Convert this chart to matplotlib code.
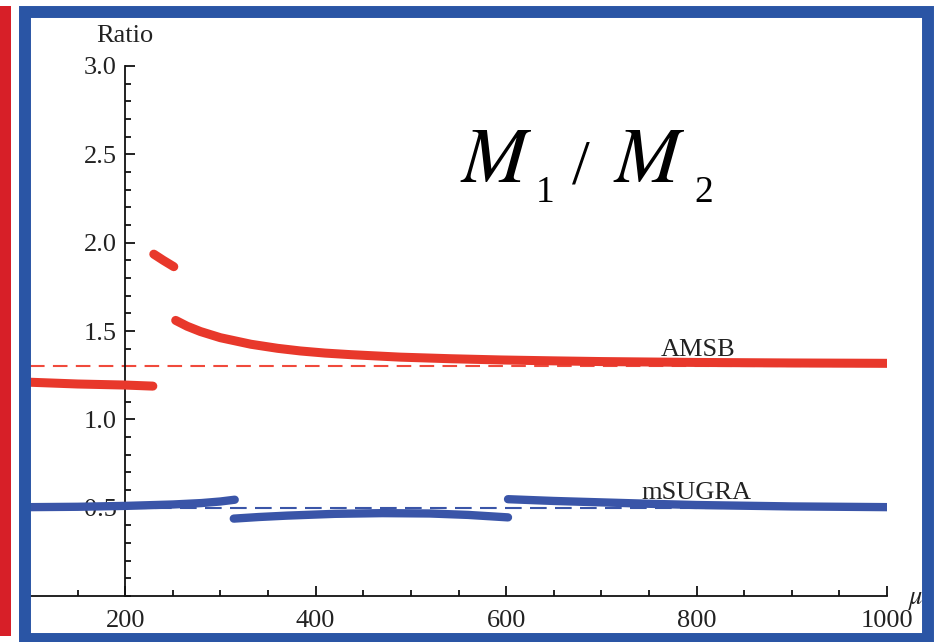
import matplotlib
matplotlib.use("Agg")
import matplotlib.pyplot as plt
from matplotlib.patches import Rectangle
from matplotlib.ticker import MultipleLocator, FixedLocator

plt.rcParams['font.family'] = 'Liberation Serif'
plt.rcParams['mathtext.fontset'] = 'stix'

# AMSB (red) branches
amsb_mu_1 = [100, 150, 200, 229]
amsb_r_1 = [1.21, 1.20, 1.194, 1.188]
amsb_mu_2 = [230, 240, 251]
amsb_r_2 = [1.935, 1.90, 1.864]
amsb_mu_3 = [253, 265, 279, 300, 332, 360, 384, 410, 437, 489, 542, 595, 650, 700, 800, 900, 1000]
amsb_r_3 = [1.56, 1.527, 1.497, 1.462, 1.425, 1.402, 1.387, 1.375, 1.366, 1.352, 1.343, 1.336,
            1.331, 1.327, 1.322, 1.319, 1.317]
amsb_ref = 1.30

# mSUGRA (blue) branches
msugra_mu_1 = [100, 150, 200, 250, 280, 300, 315]
msugra_r_1 = [0.503, 0.505, 0.51, 0.518, 0.526, 0.535, 0.545]
msugra_mu_2 = [314, 340, 370, 420, 470, 520, 560, 602]
msugra_r_2 = [0.438, 0.447, 0.455, 0.465, 0.469, 0.467, 0.459, 0.445]
msugra_mu_3 = [602, 650, 700, 750, 800, 900, 1000]
msugra_r_3 = [0.548, 0.538, 0.53, 0.522, 0.515, 0.507, 0.503]
msugra_ref = 0.50

xticks = [200, 400, 600, 800, 1000]
yticks = [0.5, 1.0, 1.5, 2.0, 2.5, 3.0]

red = '#e8382b'
blue = '#3a55a8'
W, H = 934, 642

fig = plt.figure(figsize=(W / 100, H / 100), dpi=100)
fig.patch.set_facecolor('white')
ax = fig.add_axes([30 / W, 1 - 596 / H, 857 / W, 530 / H], zorder=1)
ax.set_xlim(100, 1000)
ax.set_ylim(0, 3.0)

# reference lines
ax.axhline(amsb_ref, color='#f04a3c', lw=1.5, dashes=(7, 4), zorder=2)
ax.axhline(msugra_ref, color=blue, lw=1.5, dashes=(8, 4), zorder=2)

for mu, r in [(amsb_mu_1, amsb_r_1), (amsb_mu_2, amsb_r_2), (amsb_mu_3, amsb_r_3)]:
    ax.plot(mu, r, color=red, lw=6.5, solid_capstyle='round', solid_joinstyle='round', zorder=3)
for mu, r in [(msugra_mu_1, msugra_r_1), (msugra_mu_2, msugra_r_2), (msugra_mu_3, msugra_r_3)]:
    ax.plot(mu, r, color=blue, lw=6.0, solid_capstyle='round', solid_joinstyle='round', zorder=3)

# Mathematica-style axes
for s in ['top', 'right']:
    ax.spines[s].set_visible(False)
ax.spines['left'].set_position(('data', 200))
ax.spines['bottom'].set_position(('data', 0))
for s in ['left', 'bottom']:
    ax.spines[s].set_linewidth(1.3)
    ax.spines[s].set_color('#111111')
ax.patch.set_alpha(0)

ax.xaxis.set_major_locator(FixedLocator(xticks))
ax.xaxis.set_minor_locator(MultipleLocator(50))
ax.yaxis.set_major_locator(FixedLocator(yticks))
ax.yaxis.set_minor_locator(MultipleLocator(0.1))
ax.tick_params(which='both', direction='in', color='#111111', width=1.3, labelsize=19, labelcolor='#222222')
ax.tick_params(which='major', length=7.5)
ax.tick_params(which='minor', length=4.5)
ax.tick_params(axis='x', pad=10)
ax.tick_params(axis='y', pad=6)
ax.set_xticklabels([str(v) for v in xticks])
ax.set_yticklabels(['%.1f' % v for v in yticks])

ax.text(200, 3.17, 'Ratio', ha='center', va='center', fontsize=19, color='#222222', clip_on=False)
ax.text(1030, -0.03, r'$\mu$', ha='center', va='center', fontsize=19, color='#222222', clip_on=False)
ax.text(802, 1.39, 'AMSB', ha='center', va='center', fontsize=19, color='#222222')
ax.text(800, 0.585, 'mSUGRA', ha='center', va='center', fontsize=19, color='#222222')

# slide decoration: red bar, blue frame and the big M1 / M2 title
ov = fig.add_axes([0, 0, 1, 1], zorder=10)
ov.set_xlim(0, W)
ov.set_ylim(H, 0)
ov.axis('off')
ov.patch.set_alpha(0)
ov.add_patch(Rectangle((0, 6), 11, 630, facecolor='#d71f28', edgecolor='none'))
ov.add_patch(Rectangle((25, 12), 903, 627, facecolor='none', edgecolor='#2a55a5', lw=8.6))

ov.text(460, 182, r'$M$', ha='left', va='baseline', fontsize=57, color='black')
ov.text(536, 202, '1', ha='left', va='baseline', fontsize=27, color='black')
ov.text(572, 183, '/', ha='left', va='baseline', fontsize=46, color='black')
ov.text(613, 182, r'$M$', ha='left', va='baseline', fontsize=57, color='black')
ov.text(694, 202, '2', ha='left', va='baseline', fontsize=27, color='black')

fig.savefig('out.png', dpi=100)
